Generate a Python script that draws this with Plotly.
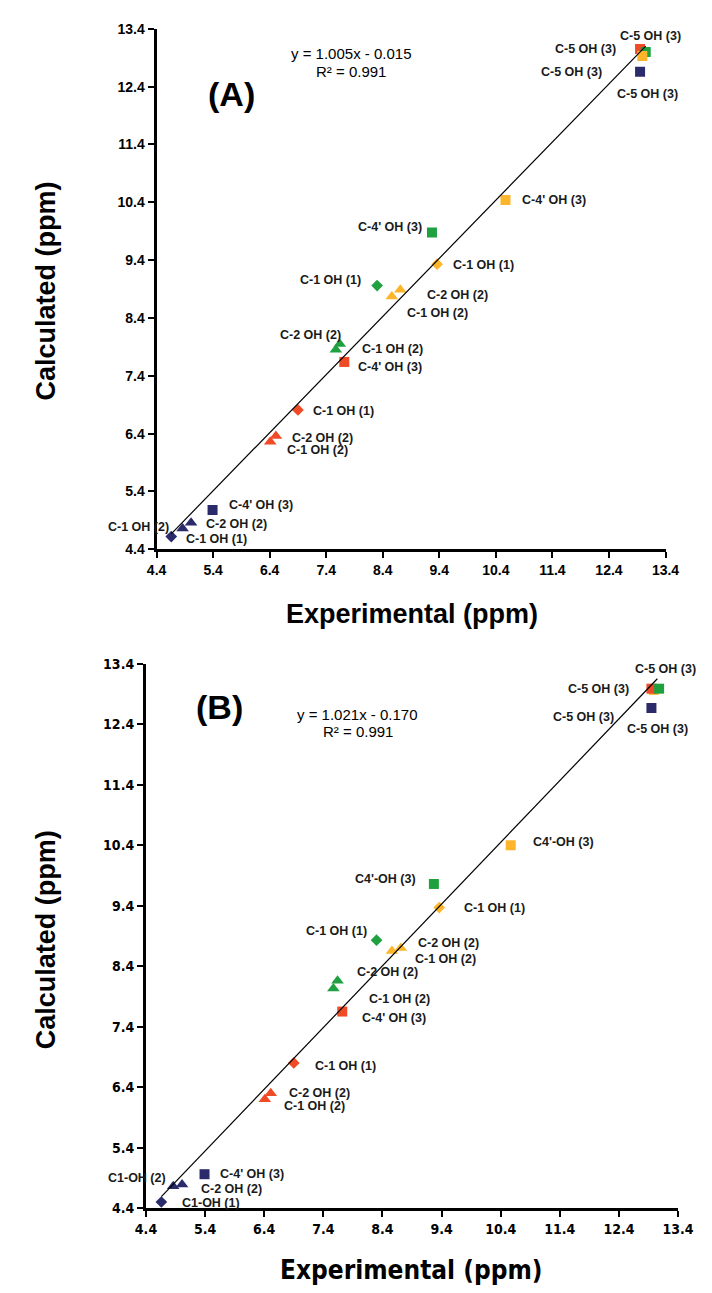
import plotly.graph_objects as go

# ---------------- DATA ----------------
# Experimental shift values (x) are shared by both panels
# order within each colour: diamond, triangle, triangle, square, square
navy_x = [4.66, 4.86, 5.01, 5.39, 12.95]
red_x = [6.90, 6.41, 6.51, 7.72, 12.95]
green_x = [8.30, 7.57, 7.64, 9.27, 13.05]
orange_x = [9.36, 8.56, 8.71, 10.57, 12.99]

# Panel A calculated values
a_navy_y = [4.62, 4.76, 4.86, 5.08, 12.66]
a_red_y = [6.81, 6.26, 6.36, 7.64, 13.05]
a_green_y = [8.96, 7.85, 7.95, 9.88, 13.00]
a_orange_y = [9.33, 8.77, 8.89, 10.44, 12.93]

# Panel B calculated values
b_navy_y = [4.50, 4.76, 4.79, 4.96, 12.67]
b_red_y = [6.80, 6.20, 6.30, 7.65, 12.99]
b_green_y = [8.83, 8.03, 8.16, 9.76, 12.99]
b_orange_y = [9.37, 8.65, 8.70, 10.40, 12.97]
b_green_x = [8.30, 7.57, 7.64, 9.27, 13.08]

marker_kinds = ["diamond", "triangle-up", "triangle-up", "square", "square"]
marker_sizes = [9, 11, 11, 10, 10]

colors = {"navy": "#2B2A6B", "red": "#EF4B26", "green": "#1FA140", "orange": "#FDB62B"}

fitA = (1.005, -0.015)
fitB = (1.021, -0.170)
eqA = ["y = 1.005x - 0.015", "R² = 0.991"]
eqB = ["y = 1.021x - 0.170", "R² = 0.991"]

ticks = [4.4, 5.4, 6.4, 7.4, 8.4, 9.4, 10.4, 11.4, 12.4, 13.4]
tick_text = [f"{t:.1f}" for t in ticks]

# labels: (text, x, y, xanchor)
labelsA = [
    ("C-5 OH (3)", 13.14, 13.27, "center"), ("C-5 OH (3)", 11.98, 13.05, "center"),
    ("C-5 OH (3)", 11.73, 12.66, "center"), ("C-5 OH (3)", 13.09, 12.27, "center"),
    ("C-4' OH (3)", 11.42, 10.44, "center"), ("C-4' OH (3)", 8.52, 9.98, "center"),
    ("C-1 OH (1)", 10.18, 9.31, "center"), ("C-1 OH (1)", 7.48, 9.06, "center"),
    ("C-2 OH (2)", 9.73, 8.79, "center"), ("C-1 OH (2)", 9.37, 8.48, "center"),
    ("C-2 OH (2)", 7.13, 8.10, "center"), ("C-1 OH (2)", 8.57, 7.86, "center"),
    ("C-4' OH (3)", 8.52, 7.56, "center"), ("C-1 OH (1)", 7.70, 6.79, "center"),
    ("C-2 OH (2)", 7.33, 6.33, "center"), ("C-1 OH (2)", 7.24, 6.12, "center"),
    ("C-4' OH (3)", 6.24, 5.17, "center"), ("C-2 OH (2)", 5.81, 4.83, "center"),
    ("C-1 OH (2)", 4.66, 4.79, "right"), ("C-1 OH (1)", 5.46, 4.57, "center"),
]
labelsB = [
    ("C-5 OH (3)", 13.18, 13.31, "center"), ("C-5 OH (3)", 12.06, 12.98, "center"),
    ("C-5 OH (3)", 11.80, 12.52, "center"), ("C-5 OH (3)", 13.05, 12.33, "center"),
    ("C4'-OH (3)", 11.46, 10.45, "center"), ("C4'-OH (3)", 8.45, 9.84, "center"),
    ("C-1 OH (1)", 10.30, 9.37, "center"), ("C-1 OH (1)", 7.62, 8.99, "center"),
    ("C-2 OH (2)", 9.52, 8.78, "center"), ("C-1 OH (2)", 9.47, 8.52, "center"),
    ("C-2 OH (2)", 8.48, 8.31, "center"), ("C-1 OH (2)", 8.68, 7.86, "center"),
    ("C-4' OH (3)", 8.60, 7.54, "center"), ("C-1 OH (1)", 7.78, 6.75, "center"),
    ("C-2 OH (2)", 7.33, 6.31, "center"), ("C-1 OH (2)", 7.25, 6.08, "center"),
    ("C-4' OH (3)", 6.20, 4.97, "center"), ("C-2 OH (2)", 5.85, 4.71, "center"),
    ("C1-OH (1)", 5.50, 4.48, "center"), ("C1-OH (2)", 4.78, 4.90, "right"),
]

# ---------------- FIGURE ----------------
W, H = 712, 1293
fig = go.Figure()

def add_series(xs, ys, color, xa, ya):
    fig.add_trace(go.Scatter(
        x=xs, y=ys, mode="markers", xaxis=xa, yaxis=ya, showlegend=False,
        marker=dict(symbol=marker_kinds, size=marker_sizes, color=color,
                    opacity=1, line=dict(width=0)),
    ))

def add_fit(fit, xs_all, xa, ya):
    lo, hi = min(xs_all), max(xs_all)
    fig.add_trace(go.Scatter(
        x=[lo, hi], y=[fit[0] * lo + fit[1], fit[0] * hi + fit[1]],
        mode="lines", xaxis=xa, yaxis=ya, showlegend=False,
        line=dict(color="black", width=1.2),
    ))

all_x = navy_x + red_x + green_x + orange_x
# Panel A
add_series(navy_x, a_navy_y, colors["navy"], "x", "y")
add_series(red_x, a_red_y, colors["red"], "x", "y")
add_series(green_x, a_green_y, colors["green"], "x", "y")
add_series(orange_x, a_orange_y, colors["orange"], "x", "y")
add_fit(fitA, all_x, "x", "y")
# Panel B
add_series(navy_x, b_navy_y, colors["navy"], "x2", "y2")
add_series(orange_x, b_orange_y, colors["orange"], "x2", "y2")
add_series(red_x, b_red_y, colors["red"], "x2", "y2")
add_series(b_green_x, b_green_y, colors["green"], "x2", "y2")
add_fit(fitB, all_x, "x2", "y2")

axA_x = [143 / W, 672 / W]
axA_y = [1 - 540 / H, 1 - 13 / H]
axB_x = [132 / W, 685 / W]
axB_y = [1 - 1207 / H, 1 - 656 / H]

def axis_style(domain, anchor, fam, size, weight):
    return dict(domain=domain, anchor=anchor, range=[4.4, 13.4],
                tickvals=ticks, ticktext=tick_text, showgrid=False, zeroline=False,
                showline=True, linecolor="black", linewidth=3,
                ticks="outside", ticklen=6, tickwidth=2, tickcolor="black",
                tickfont=dict(family=fam, size=size, color="black", weight=weight))

famA = "Liberation Sans, Arial, sans-serif"
famB = "DejaVu Sans Condensed, Liberation Sans Narrow, Arial Narrow, sans-serif"

annotations = []
lab_font = dict(family=famA, size=12.5, color="#1a1a1a")
for t, x, y, xa in labelsA:
    annotations.append(dict(text=f"<b>{t}</b>", x=x, y=y, xref="x", yref="y",
                            xanchor=xa, yanchor="middle", showarrow=False, font=lab_font))
for t, x, y, xa in labelsB:
    annotations.append(dict(text=f"<b>{t}</b>", x=x, y=y, xref="x2", yref="y2",
                            xanchor=xa, yanchor="middle", showarrow=False, font=lab_font))

eq_font = dict(family=famA, size=15, color="black")
C = dict(xanchor="center", yanchor="middle", showarrow=False)
annotations += [
    dict(text=eqA[0], x=7.84, y=12.97, xref="x", yref="y", font=eq_font, **C),
    dict(text=eqA[1], x=7.84, y=12.66, xref="x", yref="y", font=eq_font, **C),
    dict(text="<b>(A)</b>", x=5.73, y=12.28, xref="x", yref="y",
         font=dict(family=famA, size=34, color="black"), **C),
    dict(text=eqB[0], x=7.98, y=12.57, xref="x2", yref="y2", font=eq_font, **C),
    dict(text=eqB[1], x=7.98, y=12.29, xref="x2", yref="y2", font=eq_font, **C),
    dict(text="<b>(B)</b>", x=5.64, y=12.68, xref="x2", yref="y2",
         font=dict(family=famA, size=34, color="black"), **C),
    # axis titles
    dict(text="<b>Calculated (ppm)</b>", x=28 / W, y=1 - 278 / H, xref="paper", yref="paper",
         textangle=-90, font=dict(family=famA, size=27, color="black"), **C),
    dict(text="<b>Experimental (ppm)</b>", x=408 / W, y=1 - 605 / H, xref="paper", yref="paper",
         font=dict(family=famA, size=27, color="black"), **C),
    dict(text="<b>Calculated (ppm)</b>", x=28 / W, y=1 - 935 / H, xref="paper", yref="paper",
         textangle=-90, font=dict(family=famA, size=27, color="black"), **C),
    dict(text="<b>Experimental (ppm)</b>", x=408 / W, y=1 - 1270 / H, xref="paper", yref="paper",
         font=dict(family=famB, size=26, color="black"), **C),
]

fig.update_layout(
    width=W, height=H, margin=dict(l=0, r=0, t=0, b=0),
    paper_bgcolor="white", plot_bgcolor="white",
    xaxis=axis_style(axA_x, "y", famA, 14, "bold"),
    yaxis=axis_style(axA_y, "x", famA, 14, "bold"),
    xaxis2=axis_style(axB_x, "y2", famB, 14, "bold"),
    yaxis2=axis_style(axB_y, "x2", famB, 14, "bold"),
    annotations=annotations,
)

fig.write_html("out.html")
